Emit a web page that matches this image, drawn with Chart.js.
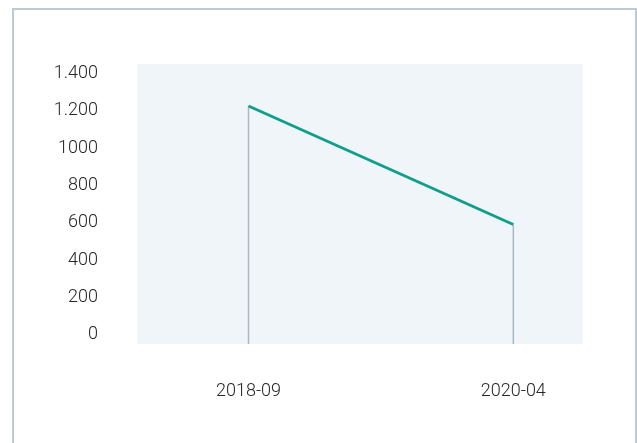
<!DOCTYPE html>
<html>
<head>
<meta charset="utf-8">
<script src="https://cdn.jsdelivr.net/npm/chart.js@4"></script>
<style>
  html, body { margin: 0; padding: 0; background: #ffffff; overflow: hidden; }
  #frame { position: absolute; left: 12px; top: 8px; width: 625px; height: 520px; border: 2px solid #bccad4; box-sizing: border-box; }
  #wrap { position: absolute; left: 0; top: 0; width: 637px; height: 443px; }
</style>
</head>
<body>
<div id="frame"></div>
<div id="wrap"><canvas id="c" width="637" height="443"></canvas></div>
<script>
// Data
const categories = ['2018-09', '2020-04'];
const monthsSinceStart = [0, 19];          // 2018-09 -> 0, 2020-04 -> 19
const seriesValues = [1215, 580];
const yTickValues = [0, 200, 400, 600, 800, 1000, 1200, 1400];
const yTickLabels = ['0', '200', '400', '600', '800', '1000', '1.200', '1.400'];

const points = monthsSinceStart.map((m, i) => ({ x: m, y: seriesValues[i] }));

const bgPlugin = {
  id: 'plotBg',
  beforeDraw(chart) {
    const a = chart.chartArea, ctx = chart.ctx;
    ctx.save();
    ctx.fillStyle = '#eff5f8';
    ctx.fillRect(a.left, a.top, a.right - a.left, a.bottom - a.top);
    ctx.restore();
  }
};
const dropPlugin = {
  id: 'dropLines',
  beforeDatasetsDraw(chart) {
    const ctx = chart.ctx, a = chart.chartArea;
    const meta = chart.getDatasetMeta(0);
    ctx.save();
    ctx.strokeStyle = '#a8bac5';
    ctx.lineWidth = 1.5;
    meta.data.forEach(pt => {
      ctx.beginPath();
      ctx.moveTo(pt.x, pt.y);
      ctx.lineTo(pt.x, a.bottom);
      ctx.stroke();
    });
    ctx.restore();
  }
};

const fontSpec = { family: 'Roboto', size: 18, weight: '300' };

new Chart(document.getElementById('c'), {
  type: 'line',
  data: {
    datasets: [{
      data: points,
      borderColor: '#0f9e8c',
      borderWidth: 2.8,
      pointRadius: 0,
      pointHoverRadius: 0,
      tension: 0,
      fill: false
    }]
  },
  options: {
    responsive: false,
    animation: false,
    events: [],
    layout: { padding: { left: 0, right: 54, top: 64, bottom: 0 } },
    plugins: { legend: { display: false }, tooltip: { enabled: false } },
    scales: {
      x: {
        type: 'linear',
        min: -8,
        max: 24,
        grid: { display: false, drawTicks: false },
        border: { display: false },
        afterBuildTicks(scale) { scale.ticks = monthsSinceStart.map(v => ({ value: v })); },
        afterFit(scale) { scale.height = 99; },
        ticks: {
          padding: 37,
          maxRotation: 0,
          autoSkip: false,
          color: '#262626',
          font: fontSpec,
          callback(v) { const i = monthsSinceStart.indexOf(v); return i >= 0 ? categories[i] : ''; }
        }
      },
      y: {
        type: 'linear',
        min: -60,
        max: 1440,
        grid: { display: false, drawTicks: false },
        border: { display: false },
        afterBuildTicks(scale) { scale.ticks = yTickValues.map(v => ({ value: v })); },
        afterFit(scale) { scale.width = 137; },
        ticks: {
          padding: 39,
          labelOffset: 2,
          color: '#262626',
          font: fontSpec,
          callback(v) { const i = yTickValues.indexOf(v); return i >= 0 ? yTickLabels[i] : ''; }
        }
      }
    }
  },
  plugins: [bgPlugin, dropPlugin]
});
</script>
</body>
</html>
